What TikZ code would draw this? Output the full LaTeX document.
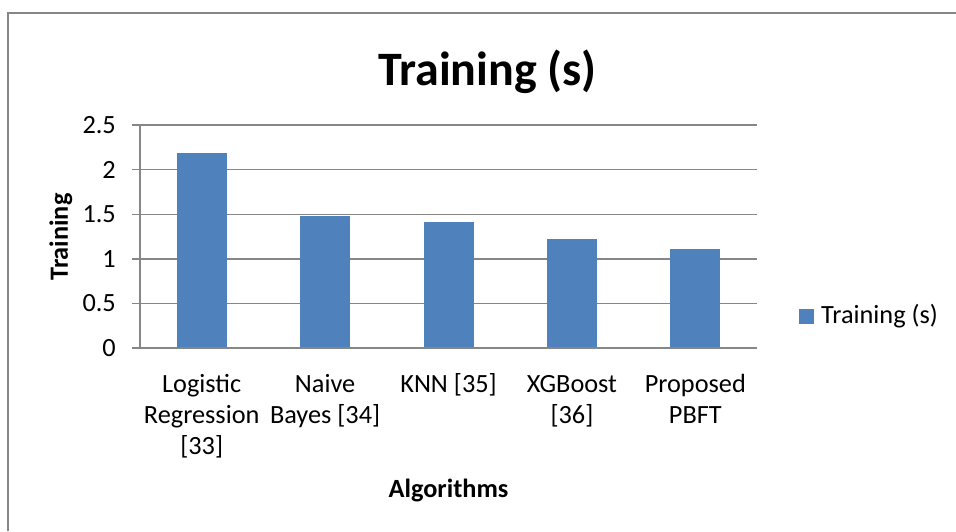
\documentclass[tikz,border=0pt]{standalone}
\usepackage{fontspec}
\setmainfont{Carlito}
\definecolor{barblue}{HTML}{4F81BD}
\definecolor{gridgray}{HTML}{868686}
\begin{document}
\begin{tikzpicture}[x=1pt,y=-1pt,
  gridline/.style={draw=gridgray,line width=1.4pt},
  frameline/.style={draw=gridgray,line width=2pt},
  lab/.style={inner sep=0pt,font=\fontsize{26.3}{31.3}\selectfont},
  catlab/.style={lab,align=center,anchor=north},
  boldlab/.style={inner sep=0pt,font=\fontsize{26.3}{31.3}\selectfont\bfseries},
  bar/.style={fill=barblue}]
\useasboundingbox (0,0) rectangle (956,531);
% outer frame (only top and left edges visible)
\draw[frameline] (8,531) -- (8,12.5) -- (956,12.5);
% title
\node[inner sep=0pt,font=\fontsize{48}{56}\selectfont\bfseries,anchor=base] (title) at (487.5,85) {Training (s)};
% grid lines and tick labels
\foreach \v/\n in {0/0,0.5/1,1/2,1.5/3,2/4,2.5/5}{
  \draw[gridline] (132,{348-89.2*\v}) -- (757,{348-89.2*\v});
  \node[lab,anchor=east] (t\n) at (116,{348-89.2*\v}) {\v};
}
% bars
\foreach \v [count=\i] in {2.19,1.48,1.41,1.22,1.11}{
  \fill[bar] ({140+123.4*(\i-0.5)-25},348) rectangle ({140+123.4*(\i-0.5)+25},{348-89.2*\v});
}
% axes
\draw[gridline] (140,125) -- (140,348) -- (757,348);
% category labels
\node[catlab] (c1) at (201.7,370) {\strut Logistic\\Regression\\{[33]}};
\node[catlab] (c2) at (325.1,370) {\strut Naive\\Bayes [34]};
\node[catlab] (c3) at (448.5,370) {\strut KNN [35]};
\node[catlab] (c4) at (571.9,370) {\strut XGBoost\\{[36]}};
\node[catlab] (c5) at (695.3,370) {\strut Proposed\\PBFT};
% axis titles
\node[boldlab,anchor=base] (xlab) at (448.5,497) {Algorithms};
\node[boldlab,rotate=90] (ylab) at (61,237) {Training};
% legend
\fill[bar] (799,309) rectangle (814,324);
\node[lab,anchor=west] (leg) at (821,316.5) {Training (s)};
\end{tikzpicture}
\end{document}
